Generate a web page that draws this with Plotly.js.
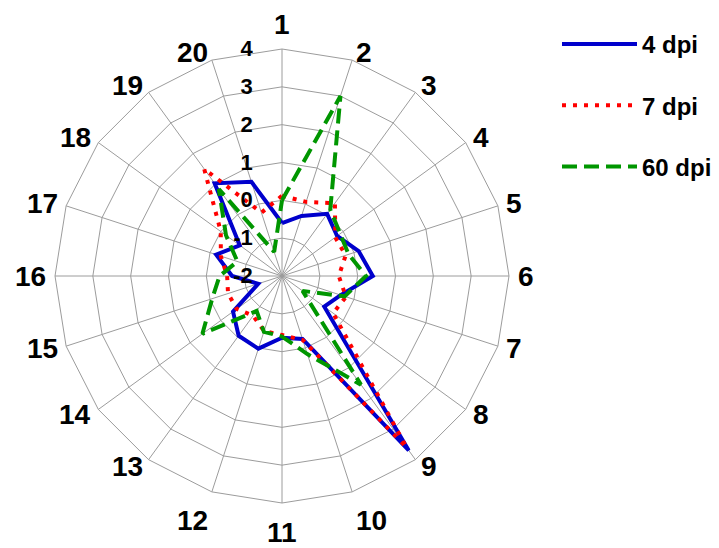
<!DOCTYPE html>
<html>
<head>
<meta charset="utf-8">
<script src="https://cdn.plot.ly/plotly-3.0.1.min.js"></script>
<style>html,body{margin:0;padding:0;background:#fff;}#chart{width:719px;height:548px;}</style>
</head>
<body>
<div id="chart"></div>
<script>
var categories = ['1','2','3','4','5','6','7','8','9','10','11','12','13','14','15','16','17','18','19','20'];
var seriesNames = ['4 dpi', '7 dpi', '60 dpi'];
var dpi4  = [-0.6, -0.33, 0.03, -0.2, 0.13, 0.4, -0.37, -0.62, 3.7, -0.25, -0.37, 0.02, -0.05, -0.4, -1.34, -0.68, -0.17, -0.62, 1.03, 0.62];
var dpi7  = [0.12, 0.06, 0.38, -0.26, -0.23, -0.5, -0.22, -0.33, 3.6, -0.22, -0.44, -0.47, -0.7, -0.52, -0.5, -0.55, -0.3, 0.0, 1.5, -0.24];
var dpi60 = [0.0, 3.0, 0.17, -0.1, -0.15, 0.22, -0.26, -1.33, 1.55, 0.17, -0.4, -0.45, -0.86, 0.6, -0.06, -0.35, -0.76, -0.17, 0.84, -1.33];
var radialTickVals = [-2, -1, 0, 1, 2, 3, 4];
var radialTickText = ['-2', '-1', '0', '1', '2', '3', '4'];

function closed(arr) { return arr.concat([arr[0]]); }

var W = 719, H = 548;
// polar area (pixels)
var PX0 = 55, PX1 = 509, PY0 = 49, PY1 = 503;
var CX = (PX0 + PX1) / 2, CY = (PY0 + PY1) / 2, RAD = (PX1 - PX0) / 2;

var styles = [
  {color: '#0000cc', width: 4, dash: 'solid'},
  {color: '#ff0000', width: 4, dash: '4px,7px'},
  {color: '#009600', width: 4, dash: '15px,7px'}
];
var values = [dpi4, dpi7, dpi60];
var traces = values.map(function (v, i) {
  return {
    type: 'scatterpolar',
    mode: 'lines',
    r: closed(v),
    theta: closed(categories),
    name: seriesNames[i],
    legendgroup: 'g' + i,
    line: {color: styles[i].color, width: styles[i].width, dash: styles[i].dash},
    hoverinfo: 'skip'
  };
});

var font = 'Liberation Sans, Arial, sans-serif';

// category labels placed beside the outer polygon vertices (spreadsheet-style placement)
var catAnnotations = categories.map(function (c, k) {
  var th = (360 / categories.length) * k * Math.PI / 180;
  var s = Math.sin(th), co = Math.cos(th);
  var px = CX + (RAD + 8) * s, py = CY - (RAD + 8) * co;
  var xa, ya, ys = 0;
  if (co > 0.99) { xa = 'center'; ya = 'bottom'; }
  else if (co < -0.9) { ya = 'top'; ys = -5; xa = Math.abs(s) < 0.01 ? 'center' : (s > 0 ? 'left' : 'right'); }
  else { ya = 'middle'; xa = s > 0 ? 'left' : 'right'; }
  return {
    xref: 'paper', yref: 'paper', x: px / W, y: 1 - py / H,
    xanchor: xa, yanchor: ya, yshift: ys, showarrow: false, text: c,
    font: {family: font, size: 28, color: '#000', weight: 'bold'},
    borderpad: 0
  };
});

var layout = {
  width: W, height: H,
  margin: {l: 0, r: 0, t: 0, b: 0},
  paper_bgcolor: '#ffffff',
  showlegend: true,
  legend: {
    x: 557/719, xanchor: 'left', y: 1 - 22/548, yanchor: 'top',
    font: {family: font, size: 24, color: '#000', weight: 'bold'},
    tracegroupgap: 27, itemwidth: 75,
    bgcolor: 'rgba(0,0,0,0)'
  },
  annotations: catAnnotations,
  polar: {
    domain: {x: [PX0 / W, PX1 / W], y: [1 - PY1 / H, 1 - PY0 / H]},
    bgcolor: '#ffffff',
    gridshape: 'linear',
    angularaxis: {
      type: 'category',
      categoryarray: categories,
      direction: 'clockwise',
      rotation: 90,
      showline: true, linecolor: '#9c9c9c', linewidth: 1,
      gridcolor: '#9c9c9c', gridwidth: 1,
      ticks: '', showticklabels: false
    },
    radialaxis: {
      range: [-2, 4],
      angle: 90,
      side: 'counterclockwise',
      tickmode: 'array', tickvals: radialTickVals, ticktext: radialTickText,
      showline: false,
      gridcolor: '#9c9c9c', gridwidth: 1,
      ticks: 'outside', ticklen: 21, tickcolor: 'rgba(0,0,0,0)',
      tickfont: {family: font, size: 22, color: '#000', weight: 'bold'},
      tickangle: 90
    }
  }
};

Plotly.newPlot('chart', traces, layout, {displayModeBar: false, staticPlot: true});
</script>
</body>
</html>
